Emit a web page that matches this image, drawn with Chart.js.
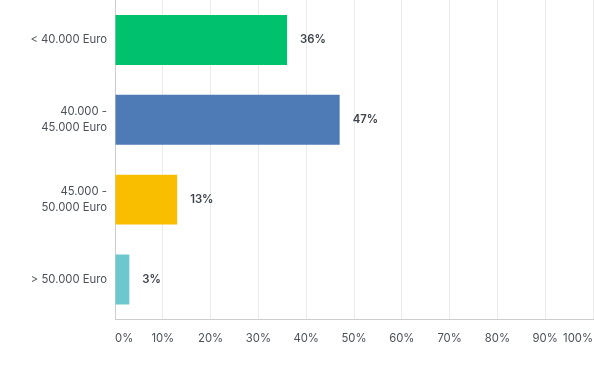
<!DOCTYPE html>
<html>
<head>
<meta charset="utf-8">
<script src="https://cdn.jsdelivr.net/npm/chart.js@4"></script>
<style>
  html, body { margin: 0; padding: 0; background: #fff; }
  #wrap { width: 594px; height: 370px; position: relative; }
</style>
</head>
<body>
<div id="wrap"><canvas id="incomeChart"></canvas></div>
<script>
// Categories and values
const categories = [['< 40.000 Euro'], ['40.000 -', '45.000 Euro'], ['45.000 -', '50.000 Euro'], ['> 50.000 Euro']];
const shares = [36, 47, 13, 3];
const barColors = ['#00c16e', '#4e7ab5', '#f9be00', '#6cc8cd'];
const xTicks = [0, 10, 20, 30, 40, 50, 60, 70, 80, 90, 100];

const textColor = '#4b5059';

// Small plugin to write the percentage right of each bar
const valueLabels = {
    id: 'valueLabels',
    afterDatasetsDraw(chart) {
        const ctx = chart.ctx;
        const meta = chart.getDatasetMeta(0);
        ctx.save();
        ctx.font = '600 11.3px Inter';
        ctx.fillStyle = '#3d424b';
        ctx.textAlign = 'left';
        ctx.textBaseline = 'middle';
        meta.data.forEach(function (bar, i) {
            ctx.fillText(shares[i] + '%', bar.x + 13, bar.y);
        });
        ctx.restore();
    }
};

document.addEventListener('DOMContentLoaded', function () {
    const ctx = document.getElementById('incomeChart').getContext('2d');

    new Chart(ctx, {
        type: 'bar',
        data: {
            labels: categories,
            datasets: [{
                data: shares,
                backgroundColor: barColors,
                barPercentage: 0.625,
                categoryPercentage: 1.0
            }]
        },
        options: {
            indexAxis: 'y',
            responsive: true,
            maintainAspectRatio: false,
            animation: false,
            layout: { padding: { top: 0, right: 1, bottom: 13, left: 0 } },
            plugins: {
                legend: { display: false },
                tooltip: { enabled: false }
            },
            scales: {
                x: {
                    min: 0,
                    max: 100,
                    afterBuildTicks: function (scale) {
                        scale.ticks = xTicks.map(v => ({ value: v }));
                    },
                    afterFit: function (scale) {
                        scale.paddingLeft = 0;
                        scale.paddingRight = 0;
                    },
                    grid: { color: '#ebebeb', drawTicks: false },
                    border: { display: true, color: '#cccccc' },
                    ticks: {
                        align: 'inner',
                        padding: 12,
                        maxRotation: 0,
                        autoSkip: false,
                        color: textColor,
                        font: { family: 'Inter', size: 11.3 },
                        callback: v => v + '%'
                    }
                },
                y: {
                    grid: { display: false, drawTicks: false },
                    border: { display: true, color: '#cccccc' },
                    afterFit: function (scale) {
                        scale.width = 115;
                        scale.paddingTop = 0;
                        scale.paddingBottom = 0;
                    },
                    ticks: {
                        padding: 8,
                        color: textColor,
                        font: { family: 'Inter', size: 11.3, lineHeight: 1.45 }
                    }
                }
            }
        },
        plugins: [valueLabels]
    });
});
</script>
</body>
</html>
